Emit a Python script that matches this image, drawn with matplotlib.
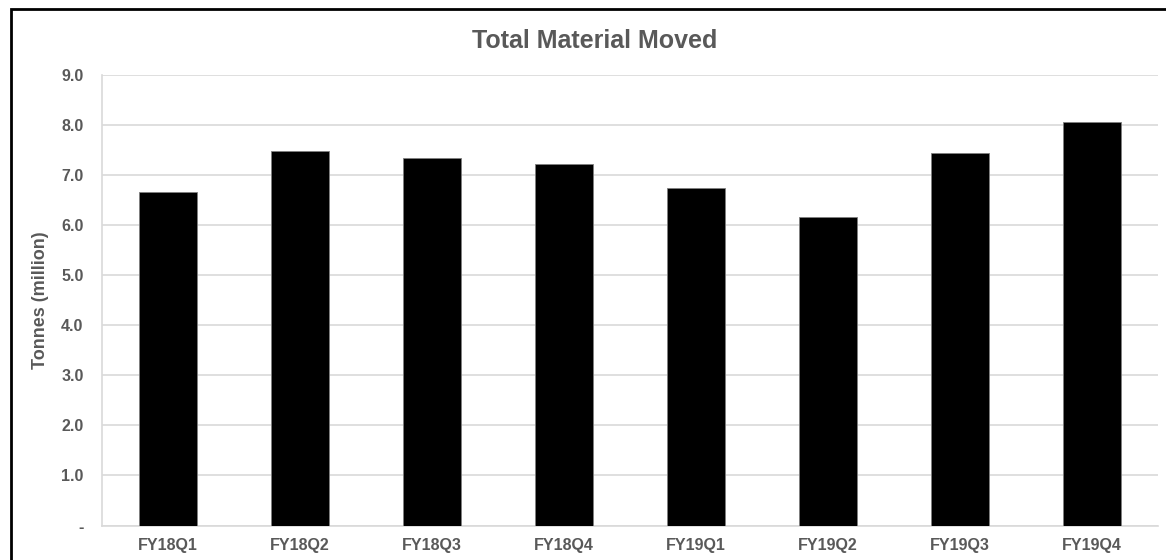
import matplotlib

matplotlib.use("Agg")
import matplotlib.pyplot as plt
from matplotlib.patches import Rectangle
from matplotlib.ticker import FuncFormatter, MultipleLocator

# quarterly material moved, million tonnes
quarters = ["FY18Q1", "FY18Q2", "FY18Q3", "FY18Q4",
            "FY19Q1", "FY19Q2", "FY19Q3", "FY19Q4"]
tonnes_m = [6.67, 7.49, 7.35, 7.23, 6.75, 6.16, 7.44, 8.06]

TEXT = "#595959"
GRID = "#d9d9d9"

plt.rcParams["font.family"] = ["Liberation Sans", "DejaVu Sans"]
plt.rcParams["font.weight"] = "bold"

fig = plt.figure(figsize=(11.66, 5.6), dpi=100)
ax = fig.add_axes([0.0872, 0.0616, 0.906, 0.8044])

x = range(len(quarters))
ax.bar(x, tonnes_m, width=0.437, color="black", edgecolor="#7f7f7f", linewidth=0.6, zorder=3)

ax.set_xlim(-0.5, len(quarters) - 0.5)
ax.set_ylim(0, 9)
ax.yaxis.set_major_locator(MultipleLocator(1))
ax.yaxis.set_major_formatter(FuncFormatter(lambda v, _: "-" if v == 0 else f"{v:.1f}"))
ax.set_xticks(list(x))
ax.set_xticklabels(quarters)

ax.grid(axis="y", color=GRID, linewidth=1.2, zorder=0)
ax.tick_params(axis="both", length=0, labelsize=11.5, colors=TEXT)
ax.tick_params(axis="y", pad=13)
ax.tick_params(axis="x", pad=9)
for side in ("top", "right"):
    ax.spines[side].set_visible(False)
for side in ("left", "bottom"):
    ax.spines[side].set_color(GRID)
    ax.spines[side].set_linewidth(1.2)

ax.set_ylabel("Tonnes (million)", fontsize=13, color=TEXT, fontweight="bold", labelpad=9)
fig.text(0.51, 0.927, "Total Material Moved", ha="center", va="center",
         fontsize=18, color=TEXT, fontweight="bold")

# chart frame (top and left edges fall inside the canvas)
fig.patches.append(Rectangle((0.0094, -0.2), 1.5, 1.184, transform=fig.transFigure,
                             fill=False, edgecolor="black", linewidth=2))

fig.savefig("out.png", dpi=100)
